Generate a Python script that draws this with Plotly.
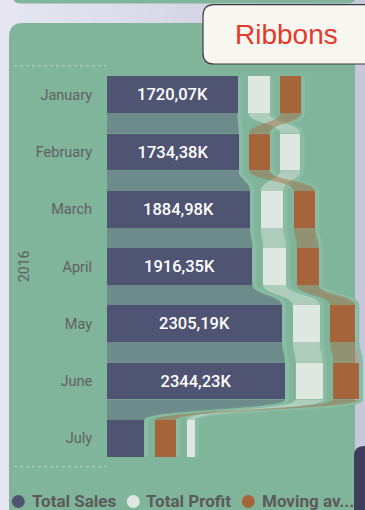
import plotly.graph_objects as go

# ---------------- data ----------------
months = ["January", "February", "March", "April", "May", "June", "July"]
year_label = "2016"
total_sales = [1720.07, 1734.38, 1884.98, 1916.35, 2305.19, 2344.23, 491.0]
total_profit = [281.0, 263.0, 299.0, 303.0, 356.0, 356.0, 105.0]
moving_avg = [277.0, 267.0, 277.0, 286.0, 329.0, 337.0, 277.0]
series_names = ["Total Sales", "Total Profit", "Moving av..."]
legend_labels = ["Total Sales", "Total Profit", "Moving av..."]
title_text = "Ribbons"

values = {"Total Sales": total_sales, "Total Profit": total_profit, "Moving av...": moving_avg}

# ---------------- layout constants ----------------
W, H = 365, 510
ML, MR, MT, MB = 107, 0, 66, 43
PW, PH = W - ML - MR, H - MT - MB
PX_PER_K = 0.0759
X_MAX = PW / PX_PER_K
GAP = 10.7 / PX_PER_K
BAR_W = 0.64
HALF = BAR_W / 2

bar_colors = {"Total Sales": "#505473", "Total Profit": "#dfe8e0", "Moving av...": "#a6643a"}
ribbon_colors = {"Total Sales": "rgba(80,84,115,0.42)",
                 "Total Profit": "rgba(224,232,224,0.47)",
                 "Moving av...": "rgba(166,100,58,0.42)"}
HALO = "#89bda3"
PANEL = "#80b49b"


def xp(px):
    return (px - ML) / PW


def yp(py):
    return (H - MB - py) / PH


def rr_path(x0, y0, x1, y1, r):
    segs = [
        ("M", [(x0 + r, y0)]), ("L", [(x1 - r, y0)]), ("Q", [(x1, y0), (x1, y0 + r)]),
        ("L", [(x1, y1 - r)]), ("Q", [(x1, y1), (x1 - r, y1)]), ("L", [(x0 + r, y1)]),
        ("Q", [(x0, y1), (x0, y1 - r)]), ("L", [(x0, y0 + r)]), ("Q", [(x0, y0), (x0 + r, y0)]),
    ]
    out = []
    for c, pts in segs:
        out.append(c + " " + " ".join(f"{xp(a):.5f},{yp(b):.5f}" for a, b in pts))
    return " ".join(out) + " Z"


# ---------------- segment positions (ribbon-chart ranking) ----------------
n_m = len(months)
starts = {n: [0.0] * n_m for n in series_names}
for i in range(n_m):
    order = sorted(series_names, key=lambda n: -values[n][i])
    pos = 0.0
    for n in order:
        starts[n][i] = pos
        pos += values[n][i] + GAP

shapes = []

# background gradient
NB = 40
c0, c1 = (231, 230, 242), (198, 200, 219)
for k in range(NB):
    t = k / (NB - 1)
    col = "rgb(%d,%d,%d)" % tuple(round(c0[j] + (c1[j] - c0[j]) * t) for j in range(3))
    shapes.append(dict(type="rect", xref="paper", yref="paper", layer="below",
                       x0=xp(W * k / NB), x1=xp(W * (k + 1) / NB + 0.5), y0=yp(H), y1=yp(0),
                       fillcolor=col, line=dict(width=0)))

# top panel, main panel, dark corner shape, title box
shapes.append(dict(type="path", xref="paper", yref="paper", layer="below",
                   path=rr_path(12, -30, 356, 3.5, 9), fillcolor=PANEL, line=dict(width=0)))
shapes.append(dict(type="path", xref="paper", yref="paper", layer="below",
                   path=rr_path(9, 23, 355, 540, 14), fillcolor=PANEL, line=dict(width=0)))
shapes.append(dict(type="path", xref="paper", yref="paper", layer="below",
                   path=rr_path(354, 446, 380, 540, 10), fillcolor="#3d3e5c", line=dict(width=0)))
shapes.append(dict(type="path", xref="paper", yref="paper", layer="below",
                   path=rr_path(203, 4.7, 380, 64, 11), fillcolor="#f8f6f0",
                   line=dict(color="#3a3a3a", width=1.2)))

# dotted edge lines
for py in (65.7, 466.7):
    shapes.append(dict(type="line", xref="paper", yref="paper", layer="below",
                       x0=xp(14), x1=xp(106), y0=yp(py), y1=yp(py),
                       line=dict(color="#b9d6c6", width=1, dash="dot")))

# halos along right edge of each column
off = 2.0 / PX_PER_K
for n in series_names:
    v, s = values[n], starts[n]
    R = [s[i] + v[i] + off for i in range(n_m)]
    p = f"M {R[0]},{0 - HALF} L {R[0]},{0 + HALF}"
    for i in range(n_m - 1):
        ym = i + 0.5
        p += f" C {R[i]},{ym} {R[i + 1]},{ym} {R[i + 1]},{i + 1 - HALF} L {R[i + 1]},{i + 1 + HALF}"
    shapes.append(dict(type="path", xref="x", yref="y", layer="below", path=p,
                       fillcolor="rgba(0,0,0,0)", line=dict(color=HALO, width=4)))

# ribbons
for n in series_names:
    v, s = values[n], starts[n]
    for i in range(n_m - 1):
        L0, R0 = s[i], s[i] + v[i]
        L1, R1 = s[i + 1], s[i + 1] + v[i + 1]
        y0, y1, ym = i + HALF, i + 1 - HALF, i + 0.5
        p = (f"M {L0},{y0} C {L0},{ym} {L1},{ym} {L1},{y1} L {R1},{y1} "
             f"C {R1},{ym} {R0},{ym} {R0},{y0} Z")
        shapes.append(dict(type="path", xref="x", yref="y", layer="below", path=p,
                           fillcolor=ribbon_colors[n], line=dict(width=0)))

# legend circles
legend_cx = [18.3, 133.3, 248.3]
for n, cx in zip(series_names, legend_cx):
    r = 6.5
    shapes.append(dict(type="circle", xref="paper", yref="paper", layer="above",
                       x0=xp(cx - r), x1=xp(cx + r), y0=yp(501.5 + r), y1=yp(501.5 - r),
                       fillcolor=bar_colors[n], line=dict(width=0)))

fig = go.Figure()
ys = list(range(n_m))
for n in series_names:
    txt = None
    if n == "Total Sales":
        txt = [f"{v:.2f}".replace(".", ",") + "K" for v in values[n]]
    fig.add_trace(go.Bar(
        orientation="h", y=ys, x=values[n], base=starts[n], width=BAR_W,
        marker=dict(color=bar_colors[n], line=dict(width=0)),
        text=txt, textposition="inside" if txt else "none", insidetextanchor="middle",
        textangle=0,
        textfont=dict(family="Roboto", size=16.5, color="#ffffff", weight=500),
        name=n, showlegend=False, hoverinfo="skip"))

annotations = [
    dict(text=title_text, xref="paper", yref="paper", x=xp(286), y=yp(34),
         showarrow=False, xanchor="center", yanchor="middle",
         font=dict(family="Liberation Sans, Arial", size=28, color="#e33b2b")),
    dict(text=year_label, xref="paper", yref="paper", x=xp(24), y=yp(266),
         showarrow=False, xanchor="center", yanchor="middle", textangle=-90,
         font=dict(family="Roboto", size=14, color="#606060")),
]
legend_tx = [30, 144, 259.5]
for lab, tx in zip(legend_labels, legend_tx):
    annotations.append(dict(text=lab, xref="paper", yref="paper", x=xp(tx), y=yp(501),
                            showarrow=False, xanchor="left", yanchor="middle",
                            font=dict(family="Roboto", size=17, color="#5b5b5b", weight="bold")))

fig.update_layout(
    width=W, height=H, margin=dict(l=ML, r=MR, t=MT, b=MB, pad=0),
    paper_bgcolor="#d9d9e8", plot_bgcolor="rgba(0,0,0,0)",
    barmode="overlay", bargap=0,
    uniformtext=dict(minsize=16, mode="hide"),
    xaxis=dict(range=[0, X_MAX], visible=False, fixedrange=True),
    yaxis=dict(range=[n_m - 0.5, -0.5], tickvals=ys, ticktext=months,
               showgrid=False, zeroline=False, showline=False,
               ticks="outside", ticklen=11, tickcolor="rgba(0,0,0,0)",
               tickfont=dict(family="Roboto", size=14.5, color="#616161")),
    shapes=shapes, annotations=annotations,
)

fig.write_html("out.html", config={"displayModeBar": False},
               post_script="document.body.style.margin='0';document.body.style.overflow='hidden';")
